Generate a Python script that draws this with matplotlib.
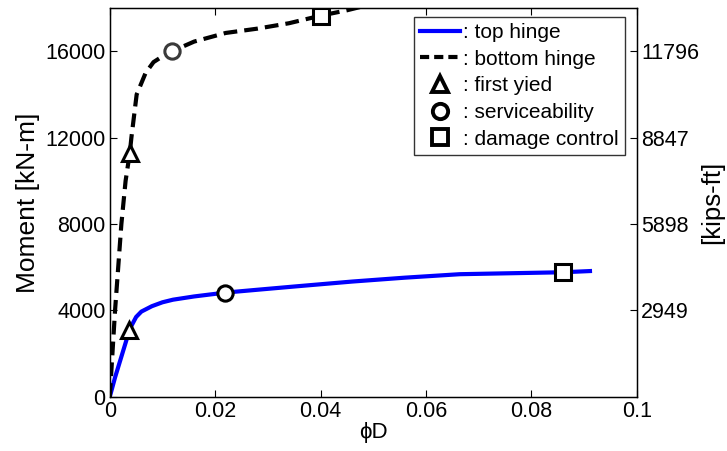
import numpy as np
import matplotlib.pyplot as plt
from matplotlib.lines import Line2D

plt.rcParams['font.family'] = ['Liberation Sans', 'DejaVu Sans']

# top hinge curve (phi*D, moment kN-m)
top_phi = [0.0, 0.001, 0.002, 0.003, 0.0038, 0.005, 0.006, 0.008, 0.010, 0.012, 0.016,
           0.022, 0.028, 0.035, 0.046, 0.056, 0.0664, 0.075, 0.086, 0.0915]
top_m = [0, 900, 1700, 2500, 3150, 3700, 3950, 4200, 4380, 4500, 4650,
         4830, 4960, 5110, 5340, 5520, 5680, 5720, 5770, 5830]

# bottom hinge curve
bot_phi = [0.0, 0.0005, 0.001, 0.0022, 0.003, 0.0038, 0.0041, 0.0051, 0.0068, 0.0083,
           0.0102, 0.0118, 0.016, 0.022, 0.028, 0.034, 0.040, 0.045, 0.050]
bot_m = [0, 2000, 4000, 8000, 10000, 11300, 12000, 14000, 15000, 15500,
         15800, 16000, 16450, 16850, 17050, 17300, 17650, 17900, 18200]

# performance points
top_pts_phi = [0.0037, 0.0218, 0.086]
top_pts_m = [3100, 4830, 5770]
bot_pts_phi = [0.0038, 0.0118, 0.040]
bot_pts_m = [11300, 16000, 17650]
pt_markers = ['^', 'o', 's']

left_ticks = [0, 4000, 8000, 12000, 16000]
right_ticks = [4000, 8000, 12000, 16000]
right_labels = ['2949', '5898', '8847', '11796']

fig = plt.figure(figsize=(7.27, 4.51), dpi=100)
ax = fig.add_axes([0.151, 0.12, 0.725, 0.862])

ax.plot(top_phi, top_m, color='#0000ff', lw=3, solid_capstyle='butt')
ax.plot(bot_phi, bot_m, color='black', lw=3, dashes=(3.3, 1.7))

mk = dict(ms=11, mfc='white', mew=2.2, ls='None', clip_on=True)
for x, y, m in zip(top_pts_phi, top_pts_m, pt_markers):
    ax.plot(x, y, marker=m, mec='black', **mk)
for x, y, m in zip(bot_pts_phi, bot_pts_m, pt_markers):
    ax.plot(x, y, marker=m, mec='#3a3a3a' if m == 'o' else 'black', **mk)

ax.set_xlim(0, 0.1)
ax.set_ylim(0, 18000)
ax.set_xticks([0, 0.02, 0.04, 0.06, 0.08, 0.1])
ax.set_xticklabels(['0', '0.02', '0.04', '0.06', '0.08', '0.1'])
ax.set_yticks(left_ticks)
ax.tick_params(direction='in', top=True, labelsize=15.5, length=5, pad=3)
ax.set_xlabel('\u03d5D', fontsize=16, labelpad=0)
ax.set_ylabel('Moment [kN-m]', fontsize=19, labelpad=4)
for s in ax.spines.values():
    s.set_linewidth(1.0)

ax2 = ax.twinx()
ax2.set_ylim(0, 18000)
ax2.set_yticks(right_ticks)
ax2.set_yticklabels(right_labels)
ax2.tick_params(direction='in', labelsize=15.5, length=5, pad=3)
ax2.set_ylabel('[kips-ft]', fontsize=18.5, labelpad=1)
ax.tick_params(right=False)

handles = [
    Line2D([], [], color='#0000ff', lw=3),
    Line2D([], [], color='black', lw=3, dashes=(2.2, 1.2)),
    Line2D([], [], color='black', marker='^', ms=11, mfc='white', mew=2.8, ls='None'),
    Line2D([], [], color='black', marker='o', ms=11, mfc='white', mew=2.8, ls='None'),
    Line2D([], [], color='black', marker='s', ms=11, mfc='white', mew=2.8, ls='None'),
]
labels = [': top hinge', ': bottom hinge', ': first yied', ': serviceability', ': damage control']
leg = ax2.legend(handles, labels, loc='upper right', bbox_to_anchor=(0.977, 0.978),
                 fontsize=15, frameon=True, fancybox=False, handlelength=1.9,
                 handletextpad=0.15, borderpad=0.3, labelspacing=0.37, borderaxespad=0.0)
leg.get_frame().set_edgecolor('black')
leg.get_frame().set_linewidth(1.0)

fig.savefig('out.png', dpi=100)
